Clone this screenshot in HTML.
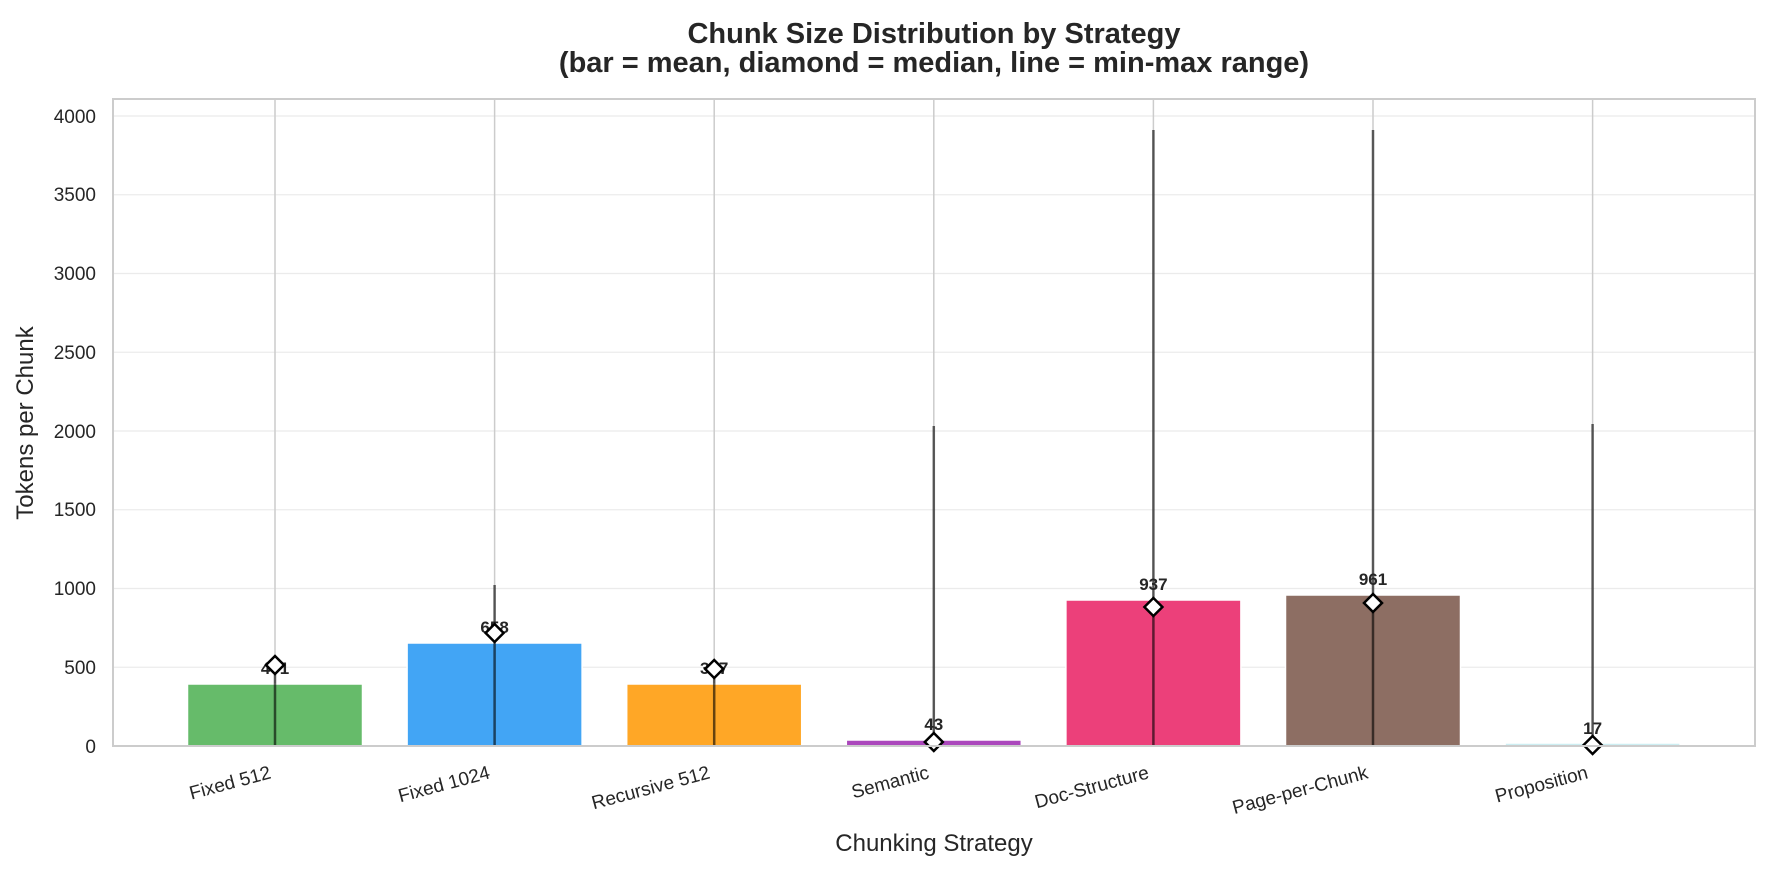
<!DOCTYPE html>
<html><head><meta charset="utf-8"><style>body{margin:0;background:#fff}svg{display:block}text{font-family:"Liberation Sans",sans-serif;fill:#262626}</style></head><body>
<svg width="1770" height="870" viewBox="0 0 1770 870">
<text x="934" y="43" font-size="29" font-weight="bold" text-anchor="middle">Chunk Size Distribution by Strategy</text>
<text x="934" y="72" font-size="29" font-weight="bold" text-anchor="middle">(bar = mean, diamond = median, line = min-max range)</text>
<g stroke="#ebebeb" stroke-width="1.3">
<line x1="113" x2="1755" y1="746" y2="746"/><line x1="113" x2="1755" y1="667.25" y2="667.25"/><line x1="113" x2="1755" y1="588.5" y2="588.5"/><line x1="113" x2="1755" y1="509.75" y2="509.75"/><line x1="113" x2="1755" y1="431" y2="431"/><line x1="113" x2="1755" y1="352.25" y2="352.25"/><line x1="113" x2="1755" y1="273.5" y2="273.5"/><line x1="113" x2="1755" y1="194.75" y2="194.75"/><line x1="113" x2="1755" y1="116" y2="116"/>
</g>
<g stroke="#cccccc" stroke-width="1.5">
<line x1="275" x2="275" y1="99" y2="746"/><line x1="494.6" x2="494.6" y1="99" y2="746"/><line x1="714.2" x2="714.2" y1="99" y2="746"/><line x1="933.8" x2="933.8" y1="99" y2="746"/><line x1="1153.4" x2="1153.4" y1="99" y2="746"/><line x1="1373" x2="1373" y1="99" y2="746"/><line x1="1592.6" x2="1592.6" y1="99" y2="746"/>
</g>
<g stroke="#fff" stroke-width="1.5">
<rect x="187.5" y="684" width="175" height="62" fill="#66bb6a"/>
<rect x="407.1" y="643" width="175" height="103" fill="#42a5f5"/>
<rect x="626.7" y="684" width="175" height="62" fill="#ffa726"/>
<rect x="846.3" y="740" width="175" height="6" fill="#ab47bc"/>
<rect x="1065.9" y="600" width="175" height="146" fill="#ec407a"/>
<rect x="1285.5" y="595" width="175" height="151" fill="#8d6e63"/>
<rect x="1505.1" y="743" width="175" height="3" fill="#cdeef2"/>
</g>
<g stroke="#000" stroke-opacity="0.6" stroke-width="2.5">
<line x1="275" x2="275" y1="665" y2="746"/><line x1="494.6" x2="494.6" y1="585" y2="746"/><line x1="714.2" x2="714.2" y1="665" y2="746"/><line x1="933.8" x2="933.8" y1="426" y2="746"/><line x1="1153.4" x2="1153.4" y1="130" y2="746"/><line x1="1373" x2="1373" y1="130" y2="746"/><line x1="1592.6" x2="1592.6" y1="424" y2="746"/>
</g>
<g font-size="17" font-weight="bold" text-anchor="middle">
<text x="275" y="674">401</text><text x="494.6" y="633">658</text><text x="714.2" y="674">397</text><text x="933.8" y="730">43</text><text x="1153.4" y="590">937</text><text x="1373" y="585">961</text><text x="1592.6" y="734">17</text>
</g>
<g fill="#fff" stroke="#000" stroke-width="2.5">
<path d="M275 656 l9 9 -9 9 -9 -9z"/><path d="M494.6 624 l9 9 -9 9 -9 -9z"/><path d="M714.2 660 l9 9 -9 9 -9 -9z"/><path d="M933.8 733 l9 9 -9 9 -9 -9z"/><path d="M1153.4 598 l9 9 -9 9 -9 -9z"/><path d="M1373 594 l9 9 -9 9 -9 -9z"/><path d="M1592.6 736 l9 9 -9 9 -9 -9z"/>
</g>
<rect x="113" y="99" width="1642" height="647" fill="none" stroke="#cccccc" stroke-width="2"/>
<g font-size="19" text-anchor="end">
<text x="96" y="753">0</text><text x="96" y="674">500</text><text x="96" y="595">1000</text><text x="96" y="516">1500</text><text x="96" y="438">2000</text><text x="96" y="359">2500</text><text x="96" y="280">3000</text><text x="96" y="201">3500</text><text x="96" y="123">4000</text>
</g>
<g font-size="19" text-anchor="end">
<text transform="translate(272,778) rotate(-15)">Fixed 512</text>
<text transform="translate(491,778) rotate(-15)">Fixed 1024</text>
<text transform="translate(711,778) rotate(-15)">Recursive 512</text>
<text transform="translate(930,778) rotate(-15)">Semantic</text>
<text transform="translate(1150,778) rotate(-15)">Doc-Structure</text>
<text transform="translate(1369,778) rotate(-15)">Page-per-Chunk</text>
<text transform="translate(1589,778) rotate(-15)">Proposition</text>
</g>
<text x="934" y="851" font-size="24" text-anchor="middle">Chunking Strategy</text>
<text transform="translate(33,423) rotate(-90)" font-size="24" text-anchor="middle">Tokens per Chunk</text>
</svg>
</body></html>
